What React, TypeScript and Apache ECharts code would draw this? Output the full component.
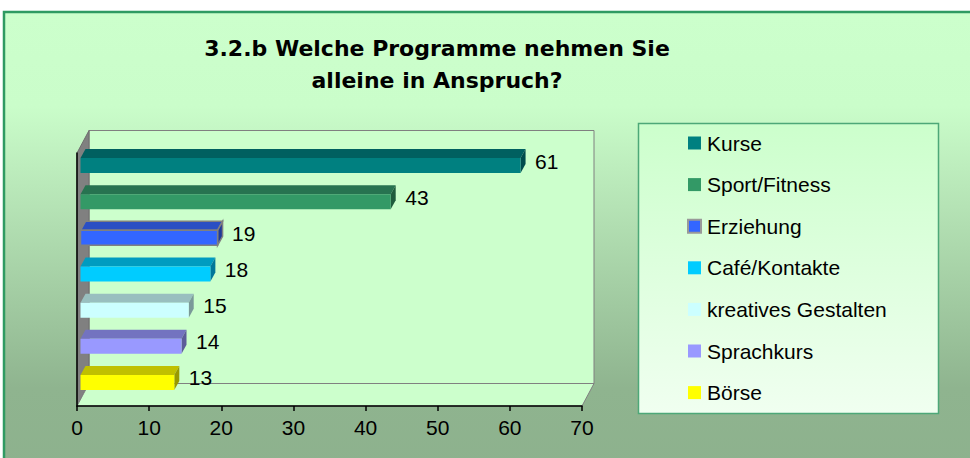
import React, { useEffect, useRef } from "react";
import * as echarts from "echarts";

const CATEGORIES = ["Kurse", "Sport/Fitness", "Erziehung", "Café/Kontakte", "kreatives Gestalten", "Sprachkurs", "Börse"];
const VALUES = [61, 43, 19, 18, 15, 14, 13];
const X_MIN = 0;
const X_MAX = 70;
const X_INTERVAL = 10;
const TITLE_LINES = ["3.2.b Welche Programme nehmen Sie", "alleine in Anspruch?"];

const FRONT_COLORS = ["#008080", "#339966", "#3366FF", "#00CCFF", "#CCFFFF", "#9999FF", "#FFFF00"];
const TOP_COLORS = ["#006060", "#277350", "#2A4FC4", "#009BC0", "#99BFBF", "#7373C0", "#C0C000"];
const SIDE_COLORS = ["#004C4C", "#1F5C3D", "#1F3A99", "#007799", "#7A9999", "#5C5C99", "#999900"];
const BORDERED = [false, false, true, false, false, false, false];

// layout constants
const W = 970;
const H = 458;
const GRID_LEFT = 77;
const GRID_RIGHT_X = 582;
const GRID_TOP = 153;
const GRID_BOTTOM_Y = 406;
const DEPTH_X = 12;
const DEPTH_Y = 22.5;
const FONT = "'Liberation Sans', Arial, sans-serif";
const FS = 21;

export default function App() {
  const ref = useRef<HTMLDivElement>(null);
  useEffect(() => {
    if (!ref.current) return;
    const chart = echarts.init(ref.current, undefined, { renderer: "svg", width: W, height: H });

    const series = CATEGORIES.map((name, i) => ({
      name,
      type: "custom",
      itemStyle: BORDERED[i]
        ? { color: FRONT_COLORS[i], borderColor: "#808080", borderWidth: 2 }
        : { color: FRONT_COLORS[i] },
      data: [[VALUES[i], name]],
      z: 3,
      renderItem: (params: any, api: any) => {
        const v = api.value(0);
        const c = api.value(1);
        const p1 = api.coord([v, c]);
        const p0 = api.coord([0, c]);
        const off = 3.5;
        const dx = 5;
        const dy = 9;
        const fh = 15;
        const xl = p0[0] + off;
        const xr = p1[0] + off;
        const fy = p1[1] - 13;
        const stroke = BORDERED[i] ? { stroke: "#808080", lineWidth: 1.5 } : {};
        return {
          type: "group",
          children: [
            {
              type: "polygon",
              shape: { points: [[xl, fy], [xl + dx, fy - dy], [xr + dx, fy - dy], [xr, fy]] },
              style: { fill: TOP_COLORS[i], ...stroke },
            },
            {
              type: "polygon",
              shape: { points: [[xr, fy], [xr + dx, fy - dy], [xr + dx, fy + fh - dy], [xr, fy + fh]] },
              style: { fill: SIDE_COLORS[i], ...stroke },
            },
            {
              type: "rect",
              shape: { x: xl, y: fy, width: xr - xl, height: fh },
              style: { fill: FRONT_COLORS[i], ...stroke },
            },
            {
              type: "text",
              x: p1[0] + 18,
              y: p1[1] - 10,
              style: {
                text: String(v),
                font: `${FS}px ${FONT}`,
                fill: "#000000",
                textAlign: "left",
                textVerticalAlign: "middle",
              },
            },
          ],
        };
      },
    }));

    const option: any = {
      animation: false,
      backgroundColor: "#ffffff",
      graphic: [
        {
          type: "rect",
          z: -20,
          shape: { x: 4, y: 12, width: 990, height: 470 },
          style: {
            fill: {
              type: "linear",
              x: 0,
              y: 0,
              x2: 0,
              y2: 1,
              colorStops: [
                { offset: 0, color: "#CCFFCC" },
                { offset: 0.2, color: "#CAFDCA" },
                { offset: 0.8, color: "#8FB48F" },
                { offset: 1, color: "#8DB18D" },
              ],
            },
            stroke: "#2F9A62",
            lineWidth: 2.5,
          },
        },
        {
          type: "rect",
          z: -10,
          shape: {
            x: GRID_LEFT + DEPTH_X,
            y: GRID_TOP - DEPTH_Y,
            width: GRID_RIGHT_X - GRID_LEFT,
            height: GRID_BOTTOM_Y - GRID_TOP,
          },
          style: { fill: "#CCFFCC", stroke: "#808080", lineWidth: 1 },
        },
        {
          type: "polygon",
          z: -9,
          shape: {
            points: [
              [GRID_LEFT, GRID_TOP],
              [GRID_LEFT + DEPTH_X, GRID_TOP - DEPTH_Y],
              [GRID_LEFT + DEPTH_X, GRID_BOTTOM_Y - DEPTH_Y],
              [GRID_LEFT, GRID_BOTTOM_Y],
            ],
          },
          style: { fill: "#808080", stroke: "#6E6E6E", lineWidth: 1 },
        },
        {
          type: "polygon",
          z: -9,
          shape: {
            points: [
              [GRID_LEFT, GRID_BOTTOM_Y],
              [GRID_LEFT + DEPTH_X, GRID_BOTTOM_Y - DEPTH_Y],
              [GRID_RIGHT_X + DEPTH_X, GRID_BOTTOM_Y - DEPTH_Y],
              [GRID_RIGHT_X, GRID_BOTTOM_Y],
            ],
          },
          style: { fill: "#CCFFCC", stroke: "#808080", lineWidth: 1 },
        },
        {
          type: "rect",
          z: -5,
          shape: { x: 638.5, y: 123.5, width: 300, height: 290 },
          style: {
            fill: {
              type: "linear",
              x: 0,
              y: 0,
              x2: 0,
              y2: 1,
              colorStops: [
                { offset: 0, color: "#CCFFCC" },
                { offset: 1, color: "#F0FFF0" },
              ],
            },
            stroke: "#4DA878",
            lineWidth: 1.5,
          },
        },
        {
          type: "text",
          z: 5,
          x: 437,
          y: 32,
          style: {
            text: TITLE_LINES.join("\n"),
            font: `bold 22px 'DejaVu Sans', sans-serif`,
            fill: "#000000",
            textAlign: "center",
            textVerticalAlign: "top",
            lineHeight: 32,
          },
        },
      ],
      legend: {
        orient: "vertical",
        left: 687,
        top: 132.5,
        padding: 0,
        itemWidth: 13,
        itemHeight: 13,
        itemGap: 20.6,
        icon: "rect",
        textStyle: { fontSize: FS, fontFamily: FONT, color: "#000000", lineHeight: 21, padding: [0, 0, 0, 1] },
        data: CATEGORIES.map((name, i) => ({
          name,
          icon: "rect",
          itemStyle: BORDERED[i]
            ? { color: FRONT_COLORS[i], borderColor: "#999999", borderWidth: 2 }
            : { color: FRONT_COLORS[i], borderWidth: 0 },
        })),
        selectedMode: false,
      },
      grid: {
        left: GRID_LEFT,
        right: W - GRID_RIGHT_X,
        top: GRID_TOP,
        bottom: H - GRID_BOTTOM_Y,
        containLabel: false,
      },
      xAxis: {
        type: "value",
        min: X_MIN,
        max: X_MAX,
        interval: X_INTERVAL,
        axisLine: { show: true, lineStyle: { color: "#000000", width: 1.5 } },
        axisTick: { show: true, length: 5, lineStyle: { color: "#000000", width: 1.5 } },
        splitLine: { show: false },
        axisLabel: { fontSize: FS, fontFamily: FONT, color: "#000000", margin: 11 },
      },
      yAxis: {
        type: "category",
        inverse: true,
        data: CATEGORIES,
        axisLine: { show: true, lineStyle: { color: "#000000", width: 1.5 } },
        axisTick: { show: false },
        axisLabel: { show: false },
        splitLine: { show: false },
      },
      series,
    };
    chart.setOption(option);
    return () => chart.dispose();
  }, []);
  return <div ref={ref} style={{ position: "fixed", left: 0, top: 0, width: W, height: H }} />;
}
